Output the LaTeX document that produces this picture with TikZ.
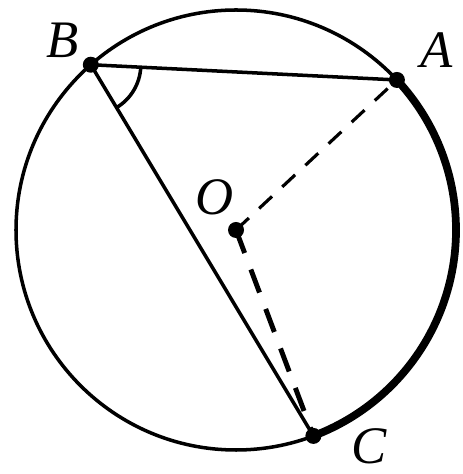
\documentclass[tikz,border=0pt]{standalone}
\usepackage{fontspec}
\setmainfont{Liberation Serif}
\usetikzlibrary{calc,angles}

\begin{document}
\begin{tikzpicture}[every node/.style={font=\fontsize{15}{17}\selectfont\itshape}]
\useasboundingbox (0,0) rectangle (4.63,4.74);
\coordinate (O) at (2.36,2.44);
\coordinate (B) at ($(O)+(131.3:2.2)$);
\coordinate (A) at ($(O)+(43:2.2)$);
\coordinate (C) at ($(O)+(-69.4:2.2)$);

\draw[line width=1pt] (O) circle (2.2);
\draw[line width=2.2pt] (A) arc[start angle=43, end angle=-69.4, radius=2.2];
\draw[line width=1pt] (B) -- (A);
\draw[line width=1pt] (B) -- (C);
\draw[line width=0.9pt, dash pattern=on 5pt off 4pt] (O) -- (A);
\draw[line width=1.4pt, dash pattern=on 7pt off 5pt] (O) -- (C);
\pic[draw, line width=1pt, angle radius=0.5cm] {angle = C--B--A};

\fill (B) circle (0.08);
\fill (A) circle (0.08);
\fill (C) circle (0.08);
\fill (O) circle (0.08);

\node (labB) at (0.63,4.34) {B};
\node (labA) at (4.37,4.24) {A};
\node (labO) at (2.15,2.77) {O};
\node (labC) at (3.69,0.28) {C};
\end{tikzpicture}
\end{document}
